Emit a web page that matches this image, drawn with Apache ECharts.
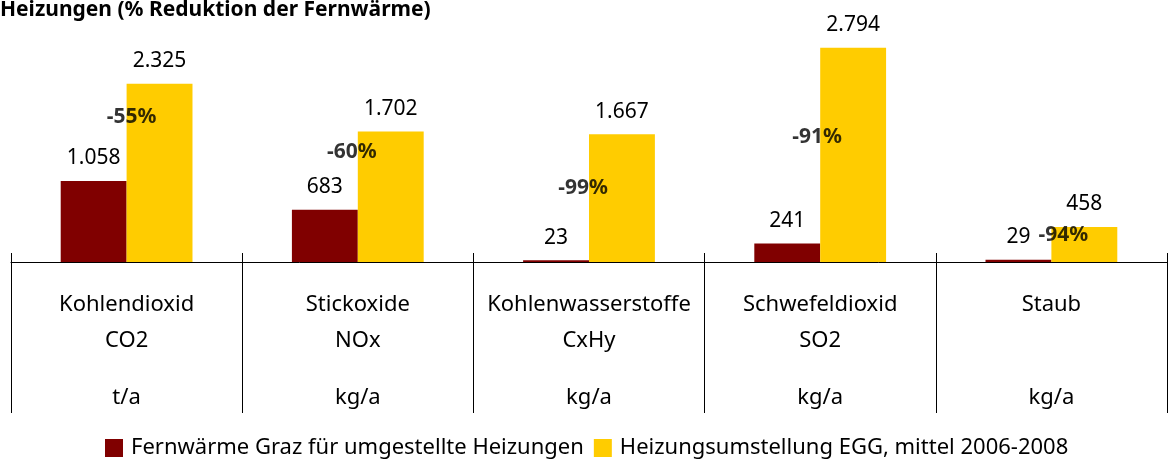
<!DOCTYPE html>
<html>
<head>
<meta charset="utf-8">
<script src="https://cdn.jsdelivr.net/npm/echarts@6/dist/echarts.min.js"></script>
<style>
  html, body { margin: 0; padding: 0; background: #fff; }
  #chart { width: 1168px; height: 459px; }
</style>
</head>
<body>
<div id="chart"></div>
<script>
// Emissions per pollutant: district heating vs. converted heating systems
const categories = ['Kohlendioxid', 'Stickoxide', 'Kohlenwasserstoffe', 'Schwefeldioxid', 'Staub'];
const formulas = ['CO2', 'NOx', 'CxHy', 'SO2', ''];
const units = ['t/a', 'kg/a', 'kg/a', 'kg/a', 'kg/a'];
const fernwaerme = [1058, 683, 23, 241, 29];
const umstellung = [2325, 1702, 1667, 2794, 458];
const reductionPct = [-55, -60, -99, -91, -94];
const seriesNames = ['Fernwärme Graz für umgestellte Heizungen', 'Heizungsumstellung EGG, mittel 2006-2008'];

// Height (axis units) and horizontal nudge (px) of the reduction annotations
const pctLevel = [1893, 1436, 966, 1632, 352];
const pctNudge = [5, -6, -6, -3, 12];

const FONT = 'Noto Sans';
const fmt = v => v.toLocaleString('de-DE');

const chart = echarts.init(document.getElementById('chart'), null, { renderer: 'canvas' });

chart.setOption({
  animation: false,
  textStyle: { fontFamily: FONT },
  title: {
    text: 'Heizungen (% Reduktion der Fernwärme)',
    left: -5,
    top: -5,
    textStyle: { fontFamily: FONT, fontSize: 21, fontWeight: 'bold', color: '#000' }
  },
  legend: {
    left: 100,
    top: 432,
    itemWidth: 18,
    itemHeight: 18,
    itemGap: 10,
    icon: 'rect',
    textStyle: { fontFamily: FONT, fontSize: 22, color: '#000', padding: [0, 0, 0, 3] },
    data: seriesNames
  },
  grid: { left: 11, right: 1, top: 32, bottom: 197, containLabel: false },
  xAxis: [
    {
      type: 'category',
      data: categories,
      axisLine: { show: true, lineStyle: { color: '#000', width: 1 } },
      axisTick: { show: true, length: 151, lineStyle: { color: '#000', width: 1 } },
      axisLabel: {
        margin: 25,
        interval: 0,
        color: '#000',
        formatter: (v, i) => '{a|' + v + '}\n{a|' + formulas[i] + '}\n{s|}\n{a|' + units[i] + '}',
        rich: {
          a: { fontFamily: FONT, fontSize: 22, lineHeight: 36, color: '#000' },
          s: { fontSize: 10, lineHeight: 21 }
        }
      }
    },
    {
      type: 'category',
      data: categories,
      position: 'bottom',
      axisLine: { show: false },
      axisLabel: { show: false },
      axisTick: { show: true, inside: true, length: 9, lineStyle: { color: '#000', width: 1 } }
    }
  ],
  yAxis: {
    type: 'value',
    min: 0,
    max: 3000,
    show: false,
    splitLine: { show: false }
  },
  series: [
    {
      name: seriesNames[0],
      type: 'bar',
      data: fernwaerme,
      barGap: '0%',
      barCategoryGap: '43%',
      itemStyle: { color: '#800000' },
      label: {
        show: true, position: 'top', distance: 12,
        fontFamily: FONT, fontSize: 21, color: '#000',
        formatter: p => fmt(p.value)
      }
    },
    {
      name: seriesNames[1],
      type: 'bar',
      data: umstellung,
      itemStyle: { color: '#FFCC00' },
      label: {
        show: true, position: 'top', distance: 12,
        fontFamily: FONT, fontSize: 21, color: '#000',
        formatter: p => fmt(p.value)
      }
    },
    {
      // Reduction annotations between each pair of bars
      type: 'scatter',
      symbolSize: 1,
      itemStyle: { color: 'rgba(0,0,0,0)' },
      silent: true,
      z: 5,
      data: categories.map((c, i) => ({
        value: [i, pctLevel[i]],
        label: { offset: [pctNudge[i], 0] }
      })),
      label: {
        show: true,
        position: 'inside',
        fontFamily: FONT, fontSize: 21, fontWeight: 'bold', color: '#000',
        formatter: p => reductionPct[p.dataIndex] + '%'
      }
    }
  ]
});
</script>
</body>
</html>
